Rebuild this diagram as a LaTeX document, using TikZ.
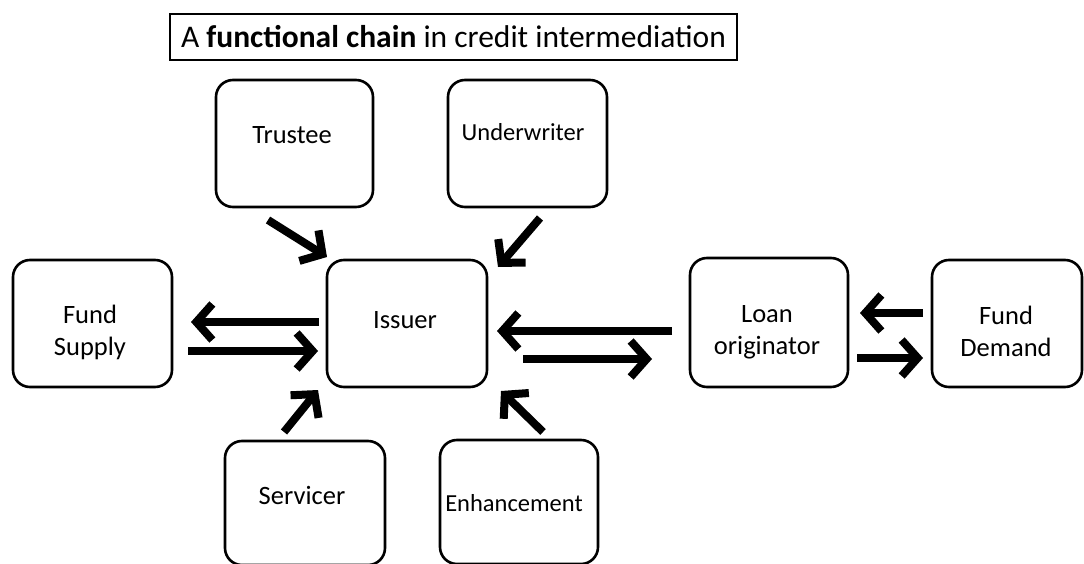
\documentclass[tikz,border=0pt]{standalone}
\usepackage{fontspec}
\setmainfont{Carlito}
\usetikzlibrary{arrows.meta}
\begin{document}
\begin{tikzpicture}[x=1pt,y=-1pt,
  box/.style={draw, line width=2.6pt, rounded corners=17pt, inner sep=0pt},
  lbl/.style={font=\fontsize{26.5}{32}\selectfont, align=center, inner sep=0pt},
  narrow/.style={font=\fontsize{24.5}{30}\selectfont},
  flow/.style={line width=8pt, -{Straight Barb[length=16pt, width=36pt, line width=8pt]}}]
\useasboundingbox (0,0) rectangle (1084,564);

% title
\node[draw, line width=1.3pt, minimum width=567pt, minimum height=46pt, inner sep=0pt,
      font=\fontsize{31.5}{36}\selectfont] (title) at (453.5,37)
  {A \textbf{functional chain} in credit intermediation};

% boxes
\node[box, minimum width=157pt, minimum height=127pt] (trustee) at (294.5,143.5) {};
\node[box, minimum width=159pt, minimum height=127pt] (underwriter) at (527.5,143.5) {};
\node[box, minimum width=160pt, minimum height=127pt] (issuer) at (407,323.5) {};
\node[box, minimum width=159pt, minimum height=127pt] (supply) at (92.5,323.5) {};
\node[box, minimum width=158pt, minimum height=129pt] (loan) at (769,322.5) {};
\node[box, minimum width=150pt, minimum height=127pt] (demand) at (1007,323.5) {};
\node[box, minimum width=160pt, minimum height=124pt] (servicer) at (305,503) {};
\node[box, minimum width=158pt, minimum height=124pt] (enhancement) at (519,502) {};

% labels
\node[lbl] (trusteeT) at (292,135) {Trustee};
\node[lbl, narrow] (underwriterT) at (523,132) {Underwriter};
\node[lbl] (issuerT) at (405,320) {Issuer};
\node[lbl] (supplyT) at (90,332) {Fund\\Supply};
\node[lbl] (loanT) at (767,332) {Loan\\originator};
\node[lbl] (demandT) at (1006,331) {Fund\\Demand};
\node[lbl] (servicerT) at (302,495) {Servicer};
\node[lbl, narrow] (enhancementT) at (514,503) {Enhancement};

% arrow end points
\coordinate (tA) at (268,220);
\coordinate (tB) at (327,257);
\coordinate (uA) at (540,218);
\coordinate (uB) at (498,267);
\coordinate (sA) at (284,432);
\coordinate (sB) at (318,390);
\coordinate (eA) at (543,432);
\coordinate (eB) at (501,391);
\coordinate (s1A) at (319,322);
\coordinate (s1B) at (191,322);
\coordinate (s2A) at (188,351);
\coordinate (s2B) at (318,351);
\coordinate (l1A) at (672,331);
\coordinate (l1B) at (497,331);
\coordinate (l2A) at (523,359);
\coordinate (l2B) at (652,359);
\coordinate (d1A) at (923,313);
\coordinate (d1B) at (860,313);
\coordinate (d2A) at (857,358);
\coordinate (d2B) at (923,358);

\draw[flow] (tA) -- (tB);
\draw[flow] (uA) -- (uB);
\draw[flow] (sA) -- (sB);
\draw[flow] (eA) -- (eB);
\draw[flow] (s1A) -- (s1B);
\draw[flow] (s2A) -- (s2B);
\draw[flow] (l1A) -- (l1B);
\draw[flow] (l2A) -- (l2B);
\draw[flow] (d1A) -- (d1B);
\draw[flow] (d2A) -- (d2B);
\end{tikzpicture}
\end{document}
